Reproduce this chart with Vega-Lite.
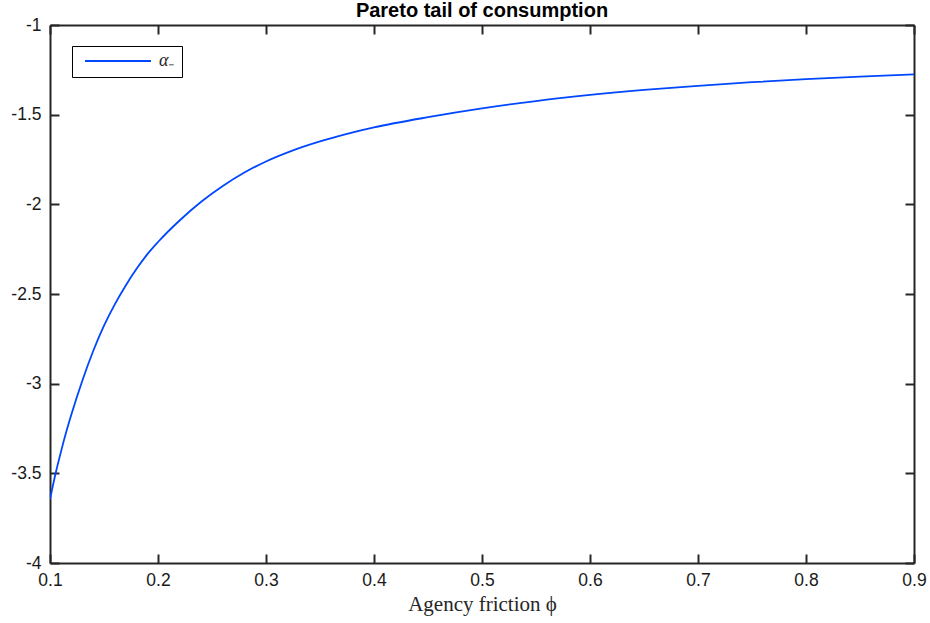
{
  "$schema": "https://vega.github.io/schema/vega-lite/v6.json",
  "width": 864,
  "height": 538,
  "autosize": "none",
  "padding": {"left": 50, "top": 25, "right": 16, "bottom": 60},
  "background": "white",
  "title": {
    "text": "Pareto tail of consumption",
    "font": "Liberation Sans",
    "fontSize": 20,
    "fontWeight": "bold",
    "color": "#000000",
    "anchor": "middle",
    "baseline": "bottom",
    "offset": 5,
    "dy": 30
  },
  "config": {
    "view": {"stroke": null},
    "axis": {
      "grid": false,
      "domainColor": "#262626",
      "domainWidth": 2,
      "tickColor": "#262626",
      "tickWidth": 2,
      "tickSize": -9,
      "labelFont": "Liberation Sans",
      "labelFontSize": 17.5,
      "labelColor": "#1a1a1a",
      "labelFlush": false,
      "labelOverlap": false
    },
    "legend": {
      "labelFont": "Liberation Serif",
      "labelFontStyle": "italic",
      "labelFontSize": 18,
      "labelColor": "#262626"
    }
  },
  "data": {
    "values": [
      {"phi": 0.1, "alpha": -3.645, "series": "α₋"},
      {"phi": 0.105, "alpha": -3.505, "series": "α₋"},
      {"phi": 0.11, "alpha": -3.383, "series": "α₋"},
      {"phi": 0.115, "alpha": -3.27, "series": "α₋"},
      {"phi": 0.12, "alpha": -3.168, "series": "α₋"},
      {"phi": 0.13, "alpha": -2.982, "series": "α₋"},
      {"phi": 0.14, "alpha": -2.818, "series": "α₋"},
      {"phi": 0.15, "alpha": -2.677, "series": "α₋"},
      {"phi": 0.16, "alpha": -2.558, "series": "α₋"},
      {"phi": 0.17, "alpha": -2.454, "series": "α₋"},
      {"phi": 0.18, "alpha": -2.361, "series": "α₋"},
      {"phi": 0.19, "alpha": -2.279, "series": "α₋"},
      {"phi": 0.2, "alpha": -2.21, "series": "α₋"},
      {"phi": 0.22, "alpha": -2.09, "series": "α₋"},
      {"phi": 0.24, "alpha": -1.986, "series": "α₋"},
      {"phi": 0.26, "alpha": -1.898, "series": "α₋"},
      {"phi": 0.28, "alpha": -1.823, "series": "α₋"},
      {"phi": 0.3, "alpha": -1.761, "series": "α₋"},
      {"phi": 0.325, "alpha": -1.699, "series": "α₋"},
      {"phi": 0.35, "alpha": -1.649, "series": "α₋"},
      {"phi": 0.375, "alpha": -1.607, "series": "α₋"},
      {"phi": 0.4, "alpha": -1.571, "series": "α₋"},
      {"phi": 0.45, "alpha": -1.514, "series": "α₋"},
      {"phi": 0.5, "alpha": -1.465, "series": "α₋"},
      {"phi": 0.55, "alpha": -1.424, "series": "α₋"},
      {"phi": 0.6, "alpha": -1.39, "series": "α₋"},
      {"phi": 0.65, "alpha": -1.362, "series": "α₋"},
      {"phi": 0.7, "alpha": -1.339, "series": "α₋"},
      {"phi": 0.75, "alpha": -1.319, "series": "α₋"},
      {"phi": 0.8, "alpha": -1.302, "series": "α₋"},
      {"phi": 0.85, "alpha": -1.2875, "series": "α₋"},
      {"phi": 0.9, "alpha": -1.275, "series": "α₋"}
    ]
  },
  "resolve": {"axis": {"x": "independent", "y": "independent"}},
  "layer": [
    {
      "mark": {"type": "line", "strokeWidth": 1.8, "interpolate": "monotone", "clip": true},
      "encoding": {
        "x": {
          "field": "phi", "type": "quantitative",
          "scale": {"domain": [0.1, 0.9], "nice": false, "zero": false},
          "axis": {
            "orient": "bottom",
            "values": [0.1, 0.2, 0.3, 0.4, 0.5, 0.6, 0.7, 0.8, 0.9],
            "labelExpr": "'' + datum.value",
            "labelPadding": 17,
            "title": "Agency friction ϕ",
            "titleFont": "Liberation Serif",
            "titleFontSize": 21,
            "titleFontWeight": "normal",
            "titleColor": "#262626",
            "titlePadding": 5
          }
        },
        "y": {
          "field": "alpha", "type": "quantitative",
          "scale": {"domain": [-4, -1], "nice": false, "zero": false},
          "axis": {
            "orient": "left",
            "values": [-4, -3.5, -3, -2.5, -2, -1.5, -1],
            "labelExpr": "'' + datum.value",
            "labelPadding": 18,
            "title": null
          }
        },
        "color": {
          "field": "series", "type": "nominal",
          "scale": {"range": ["#0047ff"]},
          "legend": {
            "title": null,
            "orient": "none",
            "legendX": 22,
            "legendY": 21,
            "symbolType": "stroke",
            "symbolSize": 4356,
            "symbolStrokeWidth": 1.8,
            "symbolOffset": 5,
            "labelOffset": 7,
            "clipHeight": 16,
            "padding": 7,
            "strokeColor": "#000000",
            "fillColor": "#ffffff"
          }
        }
      }
    },
    {
      "mark": {"type": "line", "opacity": 0},
      "encoding": {
        "x": {
          "field": "phi", "type": "quantitative",
          "axis": {
            "orient": "top",
            "values": [0.1, 0.2, 0.3, 0.4, 0.5, 0.6, 0.7, 0.8, 0.9],
            "labels": false,
            "title": null
          }
        },
        "y": {
          "field": "alpha", "type": "quantitative",
          "axis": {
            "orient": "right",
            "values": [-4, -3.5, -3, -2.5, -2, -1.5, -1],
            "labels": false,
            "title": null
          }
        }
      }
    }
  ]
}
